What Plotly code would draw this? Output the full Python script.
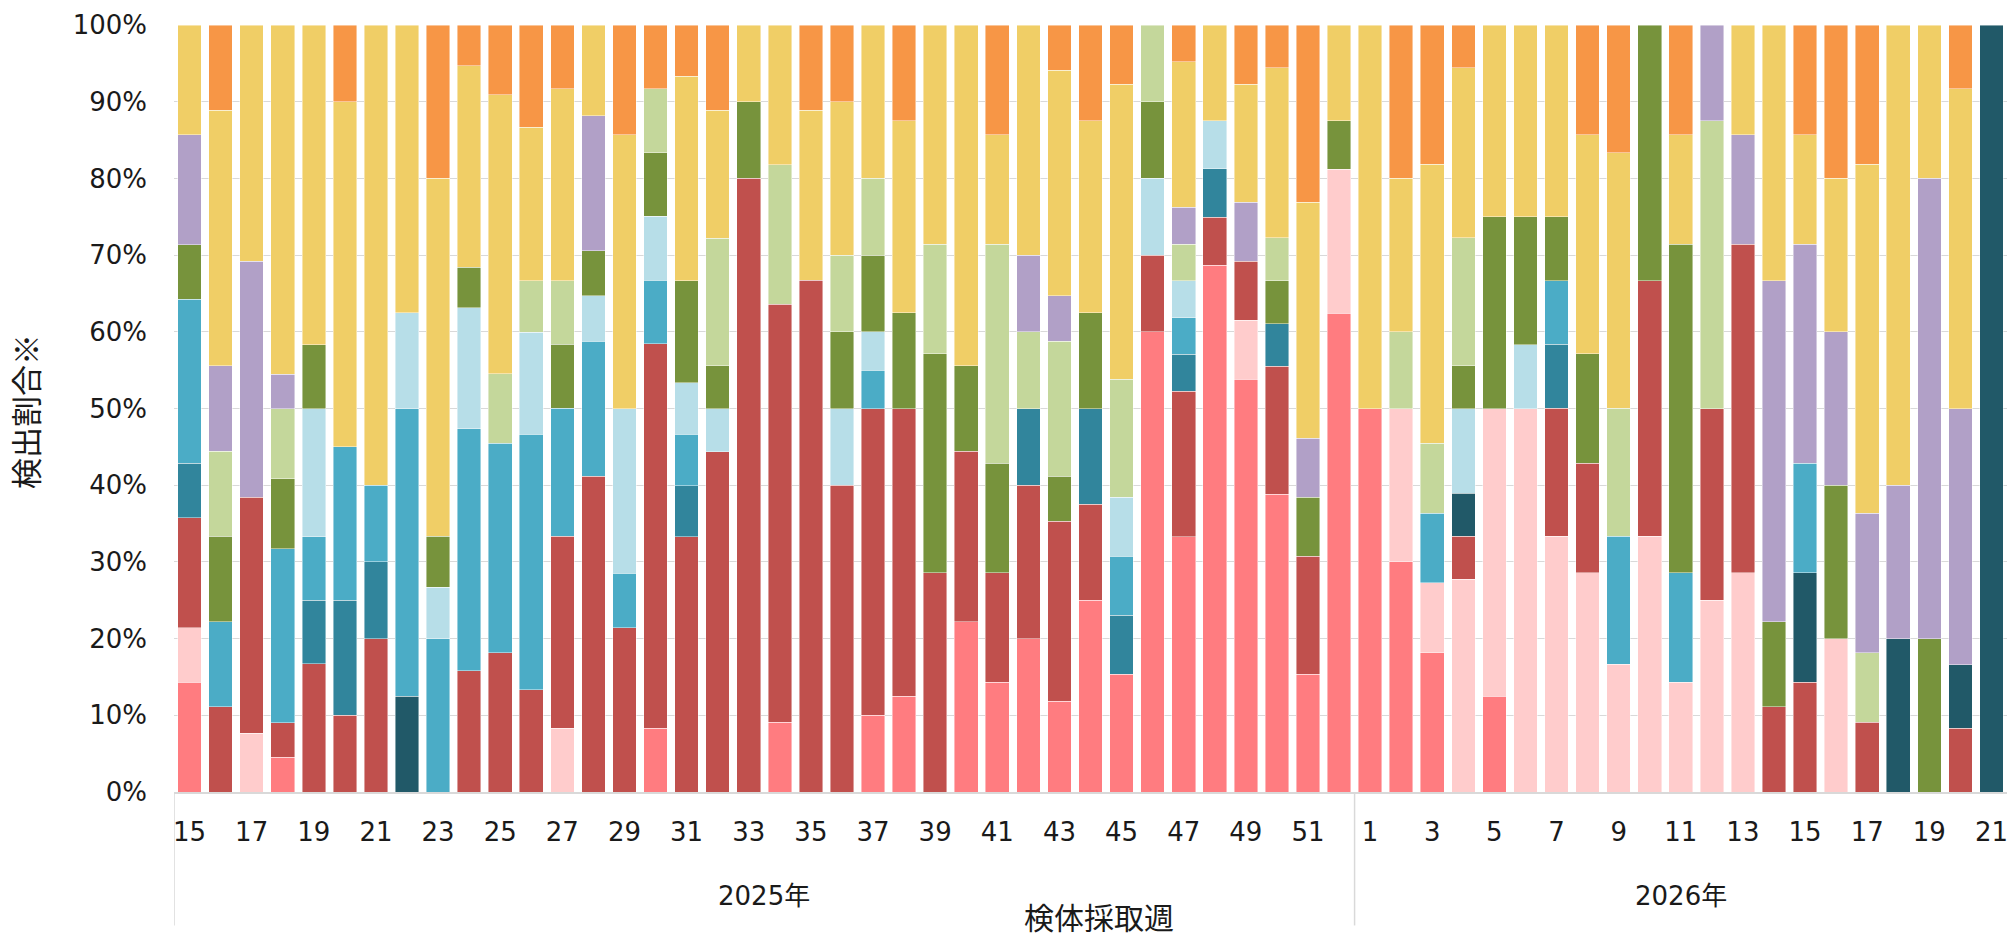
import plotly.graph_objects as go

# ---- categories / tick labels ----
years = ["2025"] * 38 + ["2026"] * 21
weeks = [15, 16, 17, 18, 19, 20, 21, 22, 23, 24, 25, 26, 27, 28, 29, 30, 31, 32, 33, 34,
         35, 36, 37, 38, 39, 40, 41, 42, 43, 44, 45, 46, 47, 48, 49, 50, 51, 52,
         1, 2, 3, 4, 5, 6, 7, 8, 9, 10, 11, 12, 13, 14, 15, 16, 17, 18, 19, 20, 21]
group_labels = ["2025年", "2026年"]
y_tickvals = [0, 10, 20, 30, 40, 50, 60, 70, 80, 90, 100]
y_ticktext = ["0%", "10%", "20%", "30%", "40%", "50%", "60%", "70%", "80%", "90%", "100%"]

# ---- series values (percent of detections), bottom to top ----
s1 = [14.3, 0, 0, 4.5, 0, 0, 0, 0, 0, 0,
      0, 0, 0, 0, 0, 8.3, 0, 0, 0, 9.1,
      0, 0, 10, 12.5, 0, 22.2, 14.3, 20, 11.8, 25,
      15.4, 60, 33.3, 68.8, 53.8, 38.9, 15.4, 62.5,
      50, 30, 18.2, 0, 12.5, 0, 0, 0, 0, 0,
      0, 0, 0, 0, 0, 0, 0, 0, 0, 0, 0]
s2 = [7.1, 0, 7.7, 0, 0, 0, 0, 0, 0, 0,
      0, 0, 8.3, 0, 0, 0, 0, 0, 0, 0,
      0, 0, 0, 0, 0, 0, 0, 0, 0, 0,
      0, 0, 0, 0, 7.7, 0, 0, 18.8,
      0, 20, 9.1, 27.8, 37.5, 50, 33.3, 28.6, 16.7, 33.3,
      14.3, 25, 28.6, 0, 0, 20, 0, 0, 0, 0, 0]
s3 = [14.3, 11.1, 30.8, 4.5, 16.7, 10, 20, 0, 0, 15.8,
      18.2, 13.3, 25, 41.2, 21.4, 50, 33.3, 44.4, 80, 54.5,
      66.7, 40, 40, 37.5, 28.6, 22.2, 14.3, 20, 23.5, 12.5,
      0, 10, 19, 6.3, 7.7, 16.7, 15.4, 0,
      0, 0, 0, 5.6, 0, 0, 16.7, 14.3, 0, 33.3,
      0, 25, 42.9, 11.1, 14.3, 0, 9.1, 0, 0, 8.3, 0]
s4 = [0, 0, 0, 0, 0, 0, 0, 12.5, 0, 0,
      0, 0, 0, 0, 0, 0, 0, 0, 0, 0,
      0, 0, 0, 0, 0, 0, 0, 0, 0, 0,
      0, 0, 0, 0, 0, 0, 0, 0,
      0, 0, 0, 5.6, 0, 0, 0, 0, 0, 0,
      0, 0, 0, 0, 14.3, 0, 0, 20, 0, 8.3, 100]
s5 = [7.1, 0, 0, 0, 8.3, 15, 10, 0, 0, 0,
      0, 0, 0, 0, 0, 0, 6.7, 0, 0, 0,
      0, 0, 0, 0, 0, 0, 0, 10, 0, 12.5,
      7.7, 0, 4.8, 6.3, 0, 5.6, 0, 0,
      0, 0, 0, 0, 0, 0, 8.3, 0, 0, 0,
      0, 0, 0, 0, 0, 0, 0, 0, 0, 0, 0]
s6 = [21.4, 11.1, 0, 22.7, 8.3, 20, 10, 37.5, 20, 31.6,
      27.3, 33.3, 16.7, 17.6, 7.1, 8.3, 6.7, 0, 0, 0,
      0, 0, 5, 0, 0, 0, 0, 0, 0, 0,
      7.7, 0, 4.8, 0, 0, 0, 0, 0,
      0, 0, 9.1, 0, 0, 0, 8.3, 0, 16.7, 0,
      14.3, 0, 0, 0, 14.3, 0, 0, 0, 0, 0, 0]
s7 = [0, 0, 0, 0, 16.7, 0, 0, 12.5, 6.7, 15.8,
      0, 13.3, 0, 5.9, 21.4, 8.3, 6.7, 5.6, 0, 0,
      0, 10, 5, 0, 0, 0, 0, 0, 0, 0,
      7.7, 10, 4.8, 6.3, 0, 0, 0, 0,
      0, 0, 0, 11.1, 0, 8.3, 0, 0, 0, 0,
      0, 0, 0, 0, 0, 0, 0, 0, 0, 0, 0]
s8 = [7.1, 11.1, 0, 9.1, 8.3, 0, 0, 0, 6.7, 5.3,
      0, 0, 8.3, 5.9, 0, 8.3, 13.3, 5.6, 10, 0,
      0, 10, 10, 12.5, 28.6, 11.1, 14.3, 0, 5.9, 12.5,
      0, 10, 0, 0, 0, 5.6, 7.7, 6.3,
      0, 0, 0, 5.6, 25, 16.7, 8.3, 14.3, 0, 33.3,
      42.9, 0, 0, 11.1, 0, 20, 0, 0, 20, 0, 0]
s9 = [0, 11.1, 0, 9.1, 0, 0, 0, 0, 0, 0,
      9.1, 6.7, 8.3, 0, 0, 8.3, 0, 16.7, 0, 18.2,
      0, 10, 10, 0, 14.3, 0, 28.6, 10, 17.6, 0,
      15.4, 10, 4.8, 0, 0, 5.6, 0, 0,
      0, 10, 9.1, 16.7, 0, 0, 0, 0, 16.7, 0,
      0, 37.5, 0, 0, 0, 0, 9.1, 0, 0, 0, 0]
s10 = [14.3, 11.1, 30.8, 4.5, 0, 0, 0, 0, 0, 0,
       0, 0, 0, 17.6, 0, 0, 0, 0, 0, 0,
       0, 0, 0, 0, 0, 0, 0, 10, 5.9, 0,
       0, 0, 4.8, 0, 7.7, 0, 7.7, 0,
       0, 0, 0, 0, 0, 0, 0, 0, 0, 0,
       0, 12.5, 14.3, 44.4, 28.6, 20, 18.2, 20, 60, 33.3, 0]
s11 = [14.3, 33.3, 30.8, 45.5, 41.7, 45, 60, 37.5, 46.7, 26.3,
       36.4, 20, 25, 11.8, 35.7, 0, 26.7, 16.7, 10, 18.2,
       22.2, 20, 20, 25, 28.6, 44.4, 14.3, 30, 29.4, 25,
       38.5, 0, 19, 12.5, 15.4, 22.2, 30.8, 12.5,
       50, 20, 36.4, 22.2, 25, 25, 25, 28.6, 33.3, 0,
       14.3, 0, 14.3, 33.3, 14.3, 20, 45.5, 60, 20, 41.7, 0]
s12 = [0, 11.1, 0, 0, 0, 10, 0, 0, 20, 5.3,
       9.1, 13.3, 8.3, 0, 14.3, 8.3, 6.7, 11.1, 0, 0,
       11.1, 10, 0, 12.5, 0, 0, 14.3, 0, 5.9, 12.5,
       7.7, 0, 4.8, 0, 7.7, 5.6, 23.1, 0,
       0, 20, 18.2, 5.6, 0, 0, 0, 14.3, 16.7, 0,
       14.3, 0, 0, 0, 14.3, 20, 18.2, 0, 0, 8.3, 0]

series_names = ["系統1", "系統2", "系統3", "系統4", "系統5", "系統6",
                "系統7", "系統8", "系統9", "系統10", "系統11", "系統12"]
series_values = [s1, s2, s3, s4, s5, s6, s7, s8, s9, s10, s11, s12]
colors = ["#FF7C80", "#FFCCCC", "#C0504D", "#215968", "#31859C", "#4BACC6",
          "#B7DEE8", "#77933C", "#C4D79B", "#B1A0C7", "#F0CE66", "#F79646"]

cats = [f"{y}-{w}" for y, w in zip(years, weeks)]

fig = go.Figure()
for name, vals, col in zip(series_names, series_values, colors):
    fig.add_trace(go.Bar(
        x=cats, y=[v if v else None for v in vals], name=name,
        marker=dict(color=col, line=dict(color="rgba(255,255,255,0.55)", width=0.8)),
        showlegend=False,
    ))

TXT = "#1a1a1a"
fig.update_layout(
    width=2007, height=937,
    margin=dict(l=174, r=0, t=25, b=145, autoexpand=False),
    barmode="stack", barnorm="percent", bargap=0.24,
    plot_bgcolor="white", paper_bgcolor="white",
    font=dict(family="DejaVu Sans, Noto Sans CJK JP", size=26, color=TXT),
    xaxis=dict(
        type="category", categoryorder="array", categoryarray=cats,
        range=[-0.5, len(cats) - 0.5],
        tickmode="array", tickvals=cats[::2], ticktext=[str(w) for w in weeks][::2],
        tickangle=0, showgrid=False, showline=True, linecolor="#D9D9D9", linewidth=1.5,
        ticks="", ticklabelstandoff=16, automargin=False,
        tickfont=dict(family="DejaVu Sans", size=26, color=TXT),
    ),
    yaxis=dict(
        range=[0, 100], tickmode="array",
        tickvals=y_tickvals, ticktext=y_ticktext,
        showgrid=True, gridcolor="#D9D9D9", gridwidth=1.3,
        zeroline=False, showline=False, ticks="", ticklabelstandoff=26,
        automargin=False,
        tickfont=dict(family="DejaVu Sans", size=26, color=TXT),
    ),
)

# group dividers below the axis
for xpos in [-0.5, 37.5]:
    fig.add_shape(type="line", xref="x", yref="paper", x0=xpos, x1=xpos,
                  y0=0, y1=-0.174, line=dict(color="#D9D9D9", width=1.5))

# group labels
fig.add_annotation(x=18.5, y=-0.136, xref="x", yref="paper", text=group_labels[0],
                   showarrow=False, yanchor="middle",
                   font=dict(family="DejaVu Sans, Noto Sans CJK JP", size=26, color=TXT))
fig.add_annotation(x=48, y=-0.136, xref="x", yref="paper", text=group_labels[1],
                   showarrow=False, yanchor="middle",
                   font=dict(family="DejaVu Sans, Noto Sans CJK JP", size=26, color=TXT))

# axis titles
fig.add_annotation(x=(1099 - 174) / 1833, y=-0.162, xref="paper", yref="paper",
                   text="検体採取週", showarrow=False, yanchor="middle",
                   font=dict(family="Noto Sans CJK JP", size=30, color=TXT))
fig.add_annotation(x=(25 - 174) / 1833, y=(792 - 412) / 767, xref="paper", yref="paper",
                   text="検出割合※", textangle=-90, showarrow=False,
                   xanchor="center", yanchor="middle",
                   font=dict(family="Noto Sans CJK JP", size=31, color=TXT))

fig.write_html(
    "out.html",
    config={"displayModeBar": False},
    post_script="document.body.style.margin='0';document.body.style.overflow='hidden';",
)
